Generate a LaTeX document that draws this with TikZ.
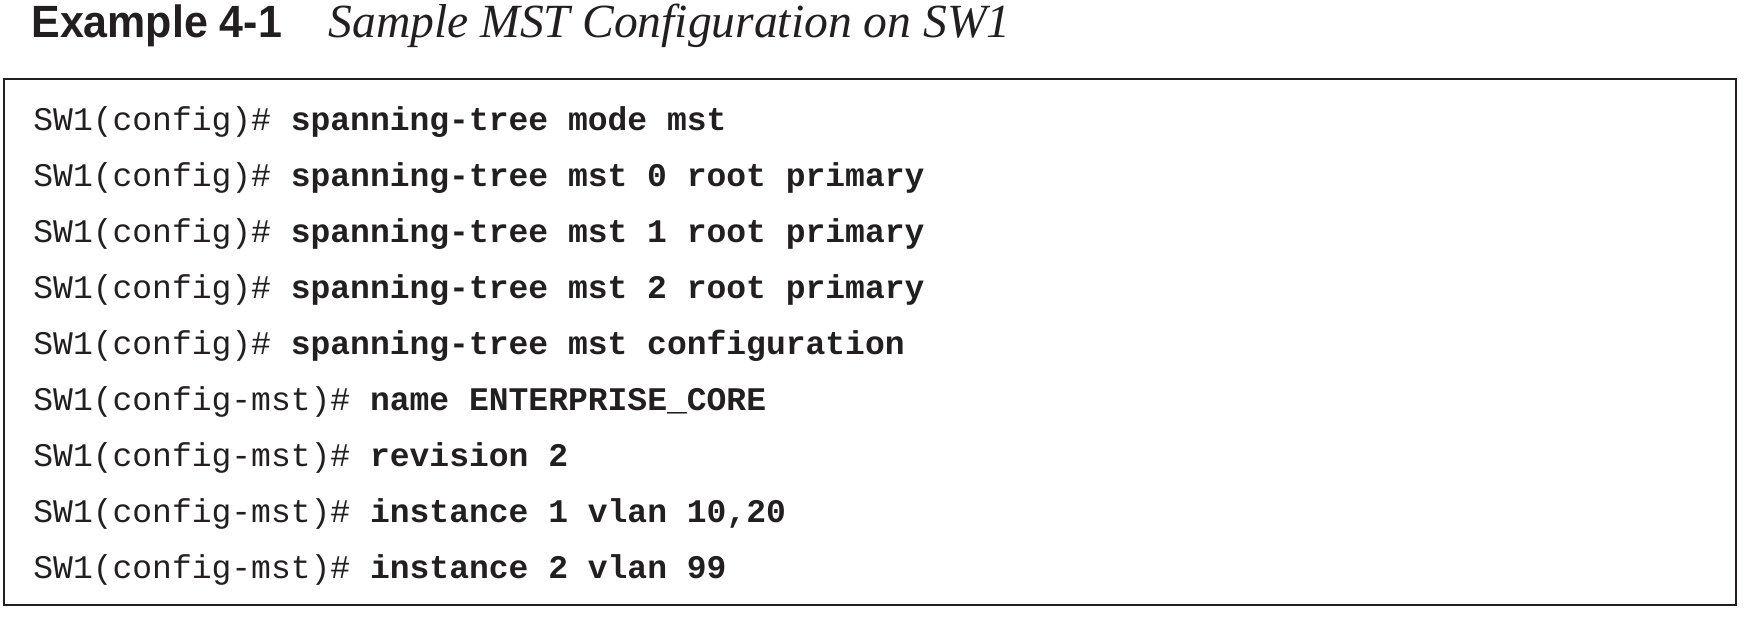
\documentclass[tikz,border=0pt]{standalone}
\usepackage{fontspec}
\newfontfamily\codefont{Liberation Mono}
\newfontfamily\headfont[FakeStretch=0.95]{Liberation Sans}
\newfontfamily\capfont{Liberation Serif}
\definecolor{ink}{HTML}{231F20}
\begin{document}
\begin{tikzpicture}[x=0.5pt,y=-0.5pt,
  codeline/.style={anchor=base west, inner sep=0pt, text=ink,
    font=\codefont\fontsize{16.5}{16.5}\selectfont},
  headline/.style={anchor=base west, inner sep=0pt, text=ink}]
\useasboundingbox (0,0) rectangle (1748,626);
\node[headline, font=\headfont\bfseries\fontsize{22.6}{22.6}\selectfont] (ex) at (31,38) {Example 4-1};
\node[headline, font=\capfont\itshape\fontsize{23.8}{23.8}\selectfont] (ttl) at (328,38) {Sample MST Configuration on SW1};
\draw[line width=1pt, draw=ink] (4,79) rectangle (1736,605);
\node[codeline] (l1) at (33,130) {SW1(config)\# \textbf{spanning-tree mode mst}};
\node[codeline] (l2) at (33,186) {SW1(config)\# \textbf{spanning-tree mst 0 root primary}};
\node[codeline] (l3) at (33,242) {SW1(config)\# \textbf{spanning-tree mst 1 root primary}};
\node[codeline] (l4) at (33,298) {SW1(config)\# \textbf{spanning-tree mst 2 root primary}};
\node[codeline] (l5) at (33,354) {SW1(config)\# \textbf{spanning-tree mst configuration}};
\node[codeline] (l6) at (33,410) {SW1(config-mst)\# \textbf{name ENTERPRISE\_CORE}};
\node[codeline] (l7) at (33,466) {SW1(config-mst)\# \textbf{revision 2}};
\node[codeline] (l8) at (33,522) {SW1(config-mst)\# \textbf{instance 1 vlan 10,20}};
\node[codeline] (l9) at (33,578) {SW1(config-mst)\# \textbf{instance 2 vlan 99}};
\end{tikzpicture}
\end{document}
